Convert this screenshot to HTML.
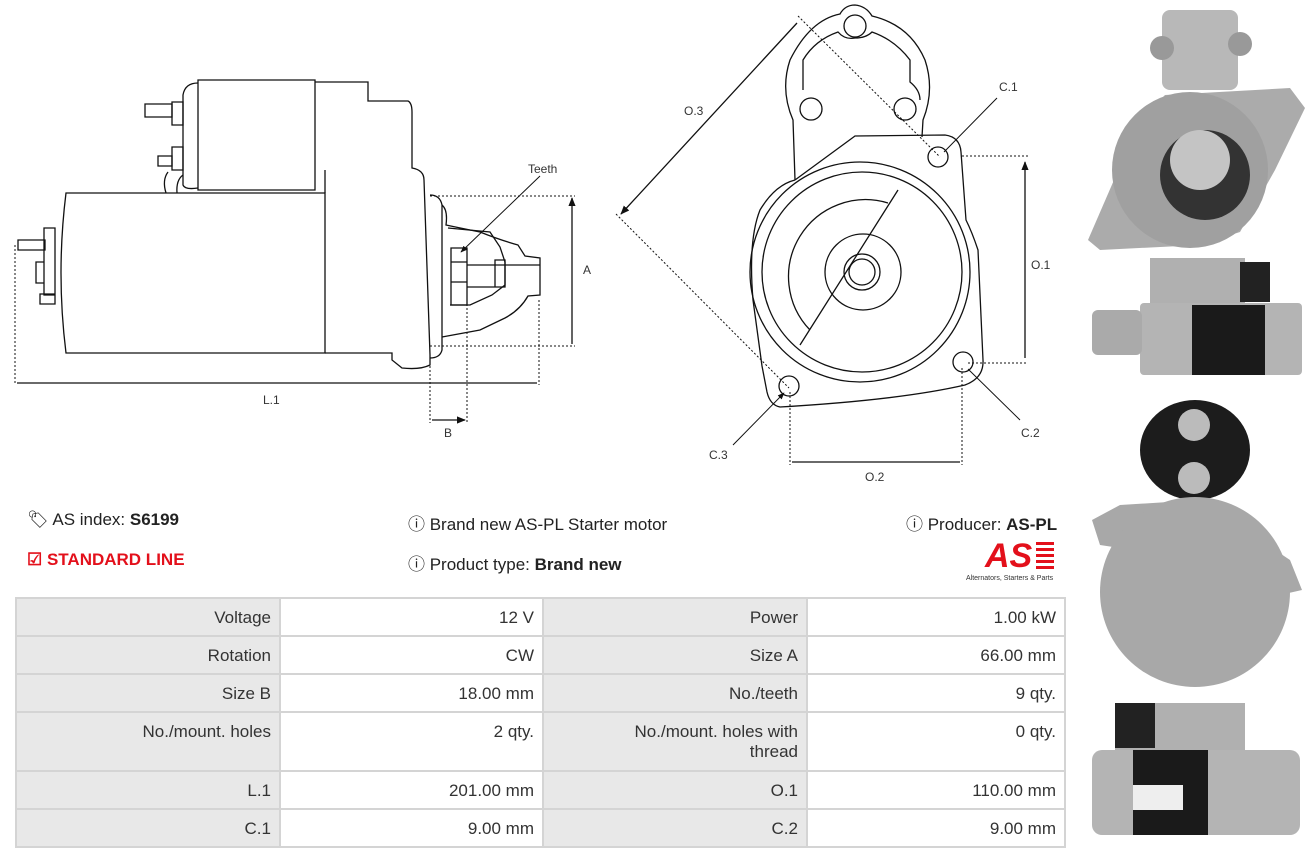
<!DOCTYPE html>
<html><head><meta charset="utf-8"><style>
body{margin:0;width:1316px;height:860px;background:#fff;font-family:"Liberation Sans",sans-serif;position:relative;overflow:hidden}
.t{position:absolute;font-size:17px;color:#222}
.t b{font-weight:bold}
table{position:absolute;left:15px;top:597px;border-collapse:collapse;width:1051px}
td{border:2px solid #d4d4d4;font-size:17px;color:#333;text-align:right;padding:0 8px;vertical-align:top;padding-top:9px;height:27px}
td.l{background:#e8e8e8}
</style></head><body>
<svg width="1316" height="860" style="position:absolute;left:0;top:0" fill="none" stroke="#111" stroke-width="1.3">
<defs><marker id="a" viewBox="0 0 10 10" refX="9" refY="5" markerWidth="7" markerHeight="7" orient="auto-start-reverse"><path d="M0,1 L10,5 L0,9z" fill="#111" stroke="none"/></marker></defs>
<!-- side view -->
<path d="M66,193 L325,193 L325,353 L66,353 Q56,273 66,193z"/>
<path d="M198,80 L315,80 L315,190 L198,190z"/>
<path d="M315,82 L368,82 L368,101 L408,101 Q412,103 412,112 L412,168 Q424,170 424,180 L430,355 L430,365 Q420,370 402,368 L392,360 L392,353 L325,353"/>
<path d="M325,170 L325,193"/>
<path d="M198,83 Q185,83 183,95 L183,185 Q185,190 198,188"/>
<path d="M172,102 L183,102 L183,125 L172,125z M172,147 L183,147 L183,170 L172,170z"/>
<path d="M145,104 L172,104 L172,117 L145,117z M158,156 L172,156 L172,166 L158,166z"/>
<path d="M18,240 L45,240 L45,250 L18,250z M44,228 L55,228 L55,295 L44,295z M36,262 L44,262 L44,283 L36,283z M40,294 L55,294 L55,304 L40,304z"/>
<path d="M166,193 Q162,180 168,172 M177,193 Q176,180 183,175"/>
<path d="M430,195 Q440,195 442,205 L442,350 Q440,358 430,358"/>
<path d="M442,205 Q448,210 446,225 Q460,228 480,232 Q500,240 518,245 L525,256 L540,258 L540,295 L528,296 Q520,310 505,318 L480,330 L442,337"/>
<path d="M448,228 L490,232 L500,247 L505,262 L505,285 L492,295 L470,305 L450,305"/>
<path d="M451,248 L467,248 L467,305 L451,305z M451,262 L467,262 M451,282 L467,282"/>
<path d="M467,265 L540,265 M467,287 L505,287 M495,260 L505,260 L505,287 L495,287z"/>
<g stroke-dasharray="2,2" stroke-width="1"><path d="M430,196 L575,196 M430,346 L575,346 M15,245 L15,385 M539,300 L539,385 M430,350 L430,423 M467,300 L467,423"/></g>
<path d="M572,198 L572,344 M17,383 L537,383 M432,420 L465,420" marker-start="url(#a)" marker-end="url(#a)"/>
<path d="M540,176 L461,252" marker-end="url(#a)" stroke-width="1"/>
<!-- front view -->
<path d="M795,180 L793,120 Q780,90 790,60 Q810,20 840,14 Q845,5 855,5 Q866,6 872,16 Q910,25 925,60 Q935,90 923,120 L922,137"/>
<path d="M803,90 L803,60 Q815,40 838,32 Q845,40 855,38 Q866,38 872,32 Q895,40 910,60 L910,82 Q920,90 920,100"/>
<circle cx="855" cy="26" r="11"/><circle cx="811" cy="109" r="11"/><circle cx="905" cy="109" r="11"/>
<path d="M795,180 L855,136 L945,135 Q960,137 961,152 L966,220 Q972,232 978,250 L983,360 Q984,378 965,385 Q900,400 780,407 Q770,405 767,392 L762,366 L753,300 Q748,240 760,210 Q775,185 795,180"/>
<circle cx="860" cy="272" r="110"/><circle cx="862" cy="272" r="100"/>
<path d="M888,203 A77,77 0 0 0 810,330 M800,345 L898,190"/>
<circle cx="863" cy="272" r="38"/><circle cx="862" cy="272" r="18"/><circle cx="862" cy="272" r="13"/>
<circle cx="938" cy="157" r="10"/><circle cx="963" cy="362" r="10"/><circle cx="789" cy="386" r="10"/>
<g stroke-dasharray="2,2" stroke-width="1"><path d="M962,156 L1028,156 M968,363 L1028,363 M790,392 L790,465 M962,368 L962,465 M798,16 L940,157 M616,214 L789,388"/></g>
<path d="M1025,162 L1025,358 M792,462 L960,462 M797,23 L621,214" marker-start="url(#a)" marker-end="url(#a)"/>
<path d="M997,98 L944,152 M1020,420 L968,369 M733,445 L784,393" marker-end="url(#a)" stroke-width="1"/>
<g fill="#333" stroke="none" font-size="12" font-family="Liberation Sans"><text x="528" y="173">Teeth</text><text x="583" y="274">A</text><text x="263" y="404">L.1</text><text x="444" y="437">B</text><text x="999" y="91">C.1</text><text x="1031" y="269">O.1</text><text x="1021" y="437">C.2</text><text x="865" y="481">O.2</text><text x="709" y="459">C.3</text><text x="684" y="115">O.3</text></g>
<!-- photos -->
<g stroke="none">
<rect x="1162" y="10" width="76" height="80" rx="8" fill="#b8b8b8"/>
<circle cx="1162" cy="48" r="12" fill="#999"/><circle cx="1240" cy="44" r="12" fill="#999"/>
<path d="M1088,240 L1140,120 L1165,95 L1290,88 L1305,108 L1275,170 L1240,232 L1200,245 L1100,250z" fill="#ababab"/>
<circle cx="1190" cy="170" r="78" fill="#a0a0a0"/><circle cx="1205" cy="175" r="45" fill="#333"/><circle cx="1200" cy="160" r="30" fill="#c4c4c4"/>
<rect x="1150" y="258" width="95" height="47" fill="#b0b0b0"/><rect x="1240" y="262" width="30" height="40" fill="#222"/>
<rect x="1140" y="303" width="162" height="72" rx="4" fill="#b4b4b4"/><rect x="1192" y="305" width="73" height="70" fill="#1a1a1a"/>
<rect x="1092" y="310" width="50" height="45" rx="6" fill="#aaa"/>
<ellipse cx="1195" cy="450" rx="55" ry="50" fill="#1c1c1c"/>
<circle cx="1194" cy="425" r="16" fill="#bbb"/><circle cx="1194" cy="478" r="16" fill="#bbb"/>
<path d="M1092,520 L1120,505 L1200,500 L1290,560 L1302,590 L1280,595 L1200,560 L1100,545z" fill="#a8a8a8"/>
<circle cx="1195" cy="592" r="95" fill="#a8a8a8"/>
<rect x="1115" y="703" width="130" height="50" fill="#b0b0b0"/><rect x="1115" y="703" width="40" height="45" fill="#222"/>
<rect x="1092" y="750" width="208" height="85" rx="10" fill="#b4b4b4"/><rect x="1133" y="750" width="75" height="85" fill="#1a1a1a"/>
<rect x="1133" y="785" width="50" height="25" fill="#eee"/>
</g>
<!-- logo -->
<text x="985" y="567" font-size="34" font-weight="bold" font-style="italic" fill="#e3101b" stroke="none" font-family="Liberation Sans">AS</text>
<g fill="#e3101b" stroke="none"><rect x="1036" y="542" width="18" height="3"/><rect x="1036" y="548" width="18" height="3"/><rect x="1036" y="554" width="18" height="3"/><rect x="1036" y="560" width="18" height="3"/><rect x="1036" y="566" width="18" height="3"/></g>
<text x="966" y="580" font-size="7" fill="#333" stroke="none" font-family="Liberation Sans">Alternators, Starters &amp; Parts</text>
</svg>
<div class="t" style="left:27px;top:510px">&#x1F3F7;&#xFE0E; AS index: <b>S6199</b></div>
<div class="t" style="left:27px;top:550px;color:#e3101b;font-weight:bold">&#9745; STANDARD LINE</div>
<div class="t" style="left:408px;top:510px">&#9432; Brand new AS-PL Starter motor</div>
<div class="t" style="left:408px;top:550px">&#9432; Product type: <b>Brand new</b></div>
<div class="t" style="left:906px;top:510px">&#9432; Producer: <b>AS-PL</b></div>
<table>
<tr><td class="l" style="width:246px">Voltage</td><td style="width:245px">12 V</td><td class="l" style="width:246px">Power</td><td>1.00 kW</td></tr>
<tr><td class="l">Rotation</td><td>CW</td><td class="l">Size A</td><td>66.00 mm</td></tr>
<tr><td class="l">Size B</td><td>18.00 mm</td><td class="l">No./teeth</td><td>9 qty.</td></tr>
<tr><td class="l" style="height:48px">No./mount. holes</td><td>2 qty.</td><td class="l">No./mount. holes with<br>thread</td><td>0 qty.</td></tr>
<tr><td class="l">L.1</td><td>201.00 mm</td><td class="l">O.1</td><td>110.00 mm</td></tr>
<tr><td class="l">C.1</td><td>9.00 mm</td><td class="l">C.2</td><td>9.00 mm</td></tr>
</table>
</body></html>
